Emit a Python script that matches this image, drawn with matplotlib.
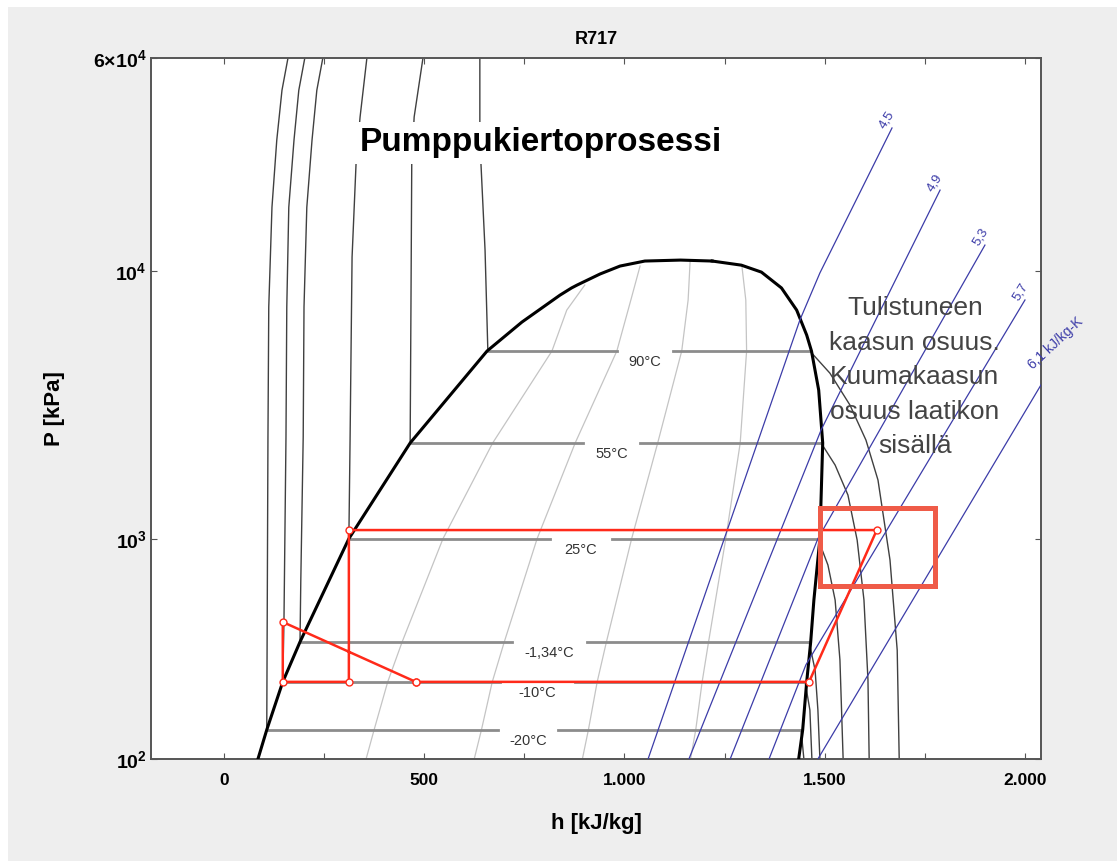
import numpy as np
import matplotlib.pyplot as plt
from matplotlib.patches import Rectangle

plt.rcParams['font.family'] = ['Liberation Sans', 'DejaVu Sans']
plt.rcParams['mathtext.fontset'] = 'custom'
plt.rcParams['mathtext.bf'] = 'Liberation Sans:bold'
plt.rcParams['mathtext.rm'] = 'Liberation Sans'

# saturation dome, h in kJ/kg and P in kPa
sat_liq_h = [85, 107, 147, 190, 312, 465, 657, 744, 839, 868, 882, 939, 989, 1051, 1140, 1219]
sat_liq_p = [151, 194, 293, 413, 1003, 2282, 5030, 6450, 8130, 8650, 8870, 9750, 10440, 10900, 10990, 10900]
sat_vap_h = [1219, 1292, 1342, 1392, 1430, 1455, 1467, 1485, 1495, 1488, 1473, 1465, 1455, 1445, 1435]
sat_vap_p = [10900, 10520, 9910, 8650, 7150, 5770, 5030, 3595, 2282, 1003, 592, 413, 293, 194, 151]

# isotherms: two-phase level, liquid branch (top -> sat), vapour branch (sat -> bottom)
iso_labels = ['90°C', '55°C', '25°C', '-1,34°C', '-10°C', '-20°C']
iso_p = [5030, 2282, 1003, 413, 293, 194]
iso_hf = [659, 465, 312, 190, 147, 107]
iso_hg = [1463, 1491, 1483, 1461, 1451, 1441]
iso_gap_lo = [981, 896, 814, 719, 689, 684]
iso_gap_hi = [1121, 1039, 969, 906, 877, 834]
liq_h = [[639, 639, 652, 659],
         [497, 475, 469, 467, 465],
         [357, 340, 330, 320, 315, 312],
         [247, 232, 220, 207, 200, 198, 192, 190],
         [202, 187, 175, 162, 157, 155, 150, 147],
         [160, 145, 132, 120, 112, 110, 107]]
liq_p = [[62400, 30800, 11970, 5030],
         [62400, 37600, 25300, 7340, 2282],
         [62400, 37600, 25300, 11270, 2340, 1003],
         [62400, 47300, 30800, 17300, 7340, 2403, 700, 413],
         [62400, 47300, 30800, 17300, 7340, 2403, 500, 293],
         [62400, 47300, 30800, 17300, 7340, 2403, 194]]
vap_h = [[1463, 1513, 1563, 1603, 1633, 1663, 1681, 1686],
         [1491, 1526, 1558, 1581, 1598, 1608, 1611],
         [1483, 1508, 1526, 1538, 1546],
         [1461, 1476, 1483, 1488],
         [1451, 1463, 1468],
         [1441, 1448]]
vap_p = [[5030, 4159, 3162, 2339, 1660, 835, 385, 151],
         [2282, 1888, 1459, 991, 592, 298, 151],
         [1003, 800, 592, 354, 151],
         [413, 324, 230, 151],
         [293, 230, 151],
         [194, 151]]

# constant quality lines x = 0.2, 0.4, 0.6, 0.8
qual_h = [[355, 375, 409, 445, 547, 671, 819, 856, 901],
          [625, 643, 670, 700, 782, 877, 981, 1016, 1039],
          [895, 910, 932, 955, 1018, 1083, 1143, 1159, 1164],
          [1165, 1178, 1194, 1210, 1253, 1289, 1305, 1303, 1293]]
qual_p = [[151, 194, 293, 413, 1003, 2282, 5030, 7150, 8870],
          [151, 194, 293, 413, 1003, 2282, 5030, 7795, 10440],
          [151, 194, 293, 413, 1003, 2282, 5030, 7795, 10900],
          [151, 194, 293, 413, 1003, 2282, 5030, 7795, 10520]]

# isentropes, kJ/kg-K
s_labels = ['4,5', '4,9', '5,3', '5,7', '6,1 kJ/kg-K']
s_h = [[1668, 1488, 1438, 1059],
       [1788, 1491, 1161],
       [1900, 1483, 1264],
       [2000, 1453, 1361],
       [2040, 1483]]
s_p = [[34200, 9840, 6564, 151],
       [20050, 2552, 151],
       [12500, 1003, 151],
       [7800, 339, 151],
       [3760, 151]]

# pump circulation cycle
cycle_h = [479, 1461, 1630, 312, 312, 147, 147, 479]
cycle_p = [293, 293, 1080, 1080, 293, 293, 490, 293]

# superheated (hot gas) share box
box_h = [1488, 1775]
box_p = [668, 1306]

fig = plt.figure(figsize=(11.17, 8.61), dpi=100)
fig.patch.set_facecolor('white')
fig.patches.append(Rectangle((8 / 1117, 0), 1, 1 - 7 / 861, transform=fig.transFigure,
                             fc='#eeeeee', ec='none', zorder=-10))
ax = fig.add_axes([151 / 1117, 1 - 759 / 861, 890 / 1117, 701 / 861])
ax.set_facecolor('white')
ax.set_yscale('log')
ax.set_xlim(-182, 2040)
ax.set_ylim(151, 62400)

# quality lines
for qh, qp in zip(qual_h, qual_p):
    ax.plot(qh, qp, color='#c4c4c4', lw=0.9, zorder=1)

# isotherms
for i, lab in enumerate(iso_labels):
    ax.plot(liq_h[i], liq_p[i], color='#404040', lw=1.0, zorder=2)
    ax.plot(vap_h[i], vap_p[i], color='#404040', lw=1.0, zorder=2)
    ax.plot([iso_hf[i], iso_gap_lo[i]], [iso_p[i]] * 2, color='#8c8c8c', lw=2.0, zorder=2)
    ax.plot([iso_gap_hi[i], iso_hg[i]], [iso_p[i]] * 2, color='#8c8c8c', lw=2.0, zorder=2)
    ax.annotate(lab, ((iso_gap_lo[i] + iso_gap_hi[i]) / 2, iso_p[i]), xytext=(0, -8),
                textcoords='offset points', ha='center', va='center',
                fontsize=10.5, color='#333333', zorder=3)

# saturation dome
ax.plot(sat_liq_h, sat_liq_p, color='black', lw=2.2, zorder=4)
ax.plot(sat_vap_h, sat_vap_p, color='black', lw=2.2, zorder=4)

# isentropes
for i, lab in enumerate(s_labels):
    ax.plot(s_h[i], s_p[i], color='#3c3ca8', lw=0.9, zorder=5)
    last = i == len(s_labels) - 1
    ax.annotate(lab, (s_h[i][0], s_p[i][0]),
                xytext=(-8, 13) if last else (-7, 0), textcoords='offset points',
                rotation=43 if last else 58, rotation_mode='anchor',
                ha='left', va='center', fontsize=10 if last else 9.5, color='#3c3ca8',
                annotation_clip=False, zorder=5)

# cycle
ax.plot(cycle_h, cycle_p, color='#ff2a1a', lw=1.8, marker='o', ms=5,
        mfc='white', mec='#ff2a1a', mew=1.0, zorder=6)

ax.add_patch(Rectangle((box_h[0], box_p[0]), box_h[1] - box_h[0], box_p[1] - box_p[0],
                       fill=False, ec='#ef5b48', lw=3.6, zorder=7))

ax.text(792, 30100, 'Pumppukiertoprosessi', fontsize=24, fontweight='bold',
        ha='center', va='center', zorder=8,
        bbox=dict(fc='white', ec='none', pad=4))
ax.text(1725, 4020, 'Tulistuneen\nkaasun osuus.\nKuumakaasun\nosuus laatikon\nsisällä',
        fontsize=19, color='#444444', ha='center', va='center', linespacing=1.55, zorder=8)

# axes styling
xt = [0, 250, 500, 750, 1000, 1250, 1500, 1750, 2000]
ax.set_xticks(xt)
ax.set_xticklabels(['0', '', '500', '', '1.000', '', '1.500', '', '2.000'],
                   fontweight='bold', fontsize=12.5)
ax.set_yticks([151, 1000, 10000, 62400])
ax.set_yticklabels([r'$\mathbf{10^{2}}$', r'$\mathbf{10^{3}}$', r'$\mathbf{10^{4}}$',
                    r'$\mathbf{6{\times}10^{4}}$'], fontsize=14)
ax.yaxis.set_minor_locator(plt.NullLocator())
ax.tick_params(direction='in', length=4, top=True, right=True, color='#555555')
ax.tick_params(axis='x', pad=10)
ax.tick_params(axis='y', pad=3)
for sp in ax.spines.values():
    sp.set_color('#555555')
    sp.set_linewidth(1.4)

ax.set_title('R717', fontweight='bold', fontsize=13, pad=10)
ax.set_xlabel('h [kJ/kg]', fontweight='bold', fontsize=16, labelpad=18)
ax.set_ylabel('P [kPa]', fontweight='bold', fontsize=16, labelpad=20)

fig.savefig('out.png', dpi=100, facecolor=fig.get_facecolor())
